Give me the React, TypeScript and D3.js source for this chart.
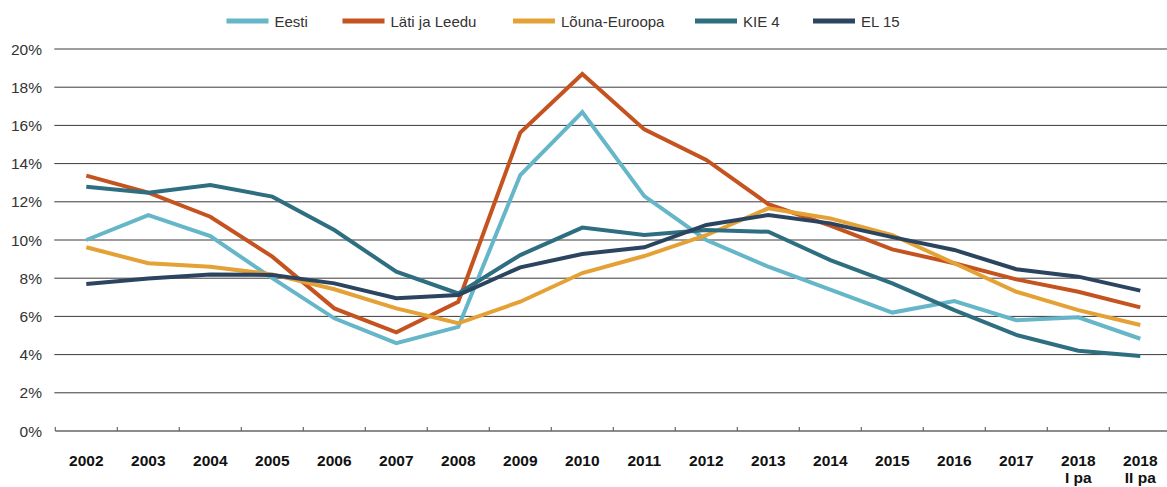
import React from "react";
import * as d3 from "d3";

const categories = ["2002","2003","2004","2005","2006","2007","2008","2009","2010","2011","2012","2013","2014","2015","2016","2017","2018|I pa","2018|II pa"];
const yTicks = [0, 2, 4, 6, 8, 10, 12, 14, 16, 18, 20];

const eesti = [10.0, 11.3, 10.2, 8.0, 5.9, 4.6, 5.45, 13.4, 16.7, 12.3, 10.0, 8.6, 7.4, 6.2, 6.8, 5.8, 5.95, 4.83];
const latiLeedu = [13.37, 12.48, 11.22, 9.13, 6.42, 5.17, 6.77, 15.62, 18.69, 15.79, 14.19, 11.88, 10.75, 9.51, 8.78, 7.94, 7.29, 6.47];
const lounaEuroopa = [9.62, 8.78, 8.6, 8.2, 7.42, 6.42, 5.64, 6.77, 8.27, 9.16, 10.25, 11.66, 11.13, 10.26, 8.78, 7.29, 6.33, 5.55];
const kie4 = [12.79, 12.48, 12.88, 12.27, 10.52, 8.34, 7.2, 9.21, 10.65, 10.26, 10.52, 10.43, 8.95, 7.73, 6.33, 5.03, 4.2, 3.93];
const el15 = [7.7, 7.99, 8.2, 8.17, 7.73, 6.95, 7.12, 8.57, 9.27, 9.62, 10.79, 11.31, 10.87, 10.15, 9.48, 8.47, 8.08, 7.35];

const seriesNames = ["Eesti", "Läti ja Leedu", "Lõuna-Euroopa", "KIE 4", "EL 15"];
const seriesColors = ["#66b6ca", "#c5531f", "#e4a135", "#2e6e80", "#2b4560"];
const seriesData = [eesti, latiLeedu, lounaEuroopa, kie4, el15];

const W = 1167;
const H = 487;
const FONT = "'Liberation Sans', Arial, Helvetica, sans-serif";

export default function App() {
  const left = 55.3;
  const step = 62.0;
  const x = d3.scaleBand<string>().domain(categories).range([left, left + step * categories.length]).paddingInner(0).paddingOuter(0);
  const y = d3.scaleLinear().domain([0, 20]).range([431, 49]);
  const cx = (c: string) => (x(c) as number) + x.bandwidth() / 2;

  const line = d3.line<number>().x((_, i) => cx(categories[i])).y((d) => y(d));

  const legendX = [226.5, 342.5, 513, 695, 813];

  return (
    <svg width={W} height={H} style={{ position: "absolute", left: 0, top: 0, background: "#fff" }} fontFamily={FONT}>
      {/* gridlines */}
      {yTicks.filter((t) => t > 0).map((t) => (
        <line key={t} x1={left - 1} x2={W} y1={y(t)} y2={y(t)} stroke="#3a3a3a" strokeWidth={1} />
      ))}
      {/* y labels */}
      {yTicks.map((t) => (
        <text key={t} x={42} y={y(t) + 5.5} textAnchor="end" fontSize={15.5} fill="#333">
          {t}%
        </text>
      ))}
      {/* x axis */}
      <line x1={left} x2={W} y1={y(0)} y2={y(0)} stroke="#666" strokeWidth={1.5} />
      {categories.map((c) => (
        <line key={c} x1={x(c) as number} x2={x(c) as number} y1={y(0)} y2={y(0) - 4} stroke="#666" strokeWidth={1.2} />
      ))}
      {categories.map((c) => {
        const parts = c.split("|");
        return (
          <text key={c} x={cx(c)} y={466} textAnchor="middle" fontSize={15.5} fontWeight="bold" fill="#111">
            {parts.map((p, i) => (
              <tspan key={i} x={cx(c)} dy={i === 0 ? 0 : 17}>{p}</tspan>
            ))}
          </text>
        );
      })}
      {/* lines */}
      {seriesData.map((d, i) => (
        <path key={seriesNames[i]} d={line(d) as string} fill="none" stroke={seriesColors[i]} strokeWidth={4} strokeLinejoin="miter" />
      ))}
      {/* legend */}
      {seriesNames.map((n, i) => (
        <g key={n} transform={`translate(${legendX[i]},21)`}>
          <line x1={0} x2={42} y1={0} y2={0} stroke={seriesColors[i]} strokeWidth={5} />
          <text x={48} y={5.5} fontSize={15} fill="#333">{n}</text>
        </g>
      ))}
    </svg>
  );
}
